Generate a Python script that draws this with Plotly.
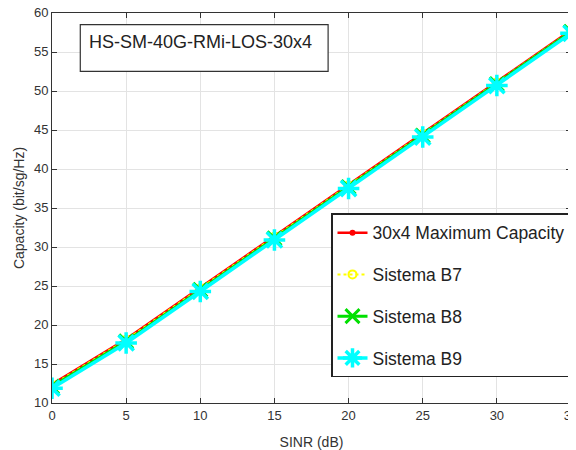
import plotly.graph_objects as go

sinr = [0, 5, 10, 15, 20, 25, 30, 35]
cap_max = [12.4, 18.2, 24.8, 31.4, 38.0, 44.6, 51.2, 57.8]
cap_b7 = [12.3, 18.1, 24.7, 31.3, 37.9, 44.5, 51.1, 57.7]
cap_b8 = [12.1, 17.9, 24.5, 31.1, 37.7, 44.3, 50.9, 57.6]
cap_b9 = [11.9, 17.7, 24.3, 30.9, 37.5, 44.1, 50.7, 57.4]
names = ["30x4 Maximum Capacity", "Sistema B7", "Sistema B8", "Sistema B9"]
x_ticks = [0, 5, 10, 15, 20, 25, 30, 35]
y_ticks = [10, 15, 20, 25, 30, 35, 40, 45, 50, 55, 60]
box_label = "HS-SM-40G-RMi-LOS-30x4"

FONT = "Liberation Sans, Arial, sans-serif"
AX = "#333333"

fig = go.Figure()
fig.add_trace(go.Scatter(
    x=sinr, y=cap_max, name=names[0], mode="lines+markers", legendgroup="a",
    line=dict(color="#ff0000", width=2.5),
    marker=dict(symbol="circle", size=6, color="#ff0000")))
fig.add_trace(go.Scatter(
    x=sinr, y=cap_b7, name=names[1], mode="lines+markers", legendgroup="b",
    line=dict(color="#ffff00", width=2, dash="dot"),
    marker=dict(symbol="circle-open", size=8, color="#ffff00", line=dict(width=2))))
fig.add_trace(go.Scatter(
    x=sinr, y=cap_b8, name=names[2], mode="lines+markers", legendgroup="c",
    line=dict(color="#00e000", width=3),
    marker=dict(symbol="x-thin-open", size=14, color="#00e000", line=dict(width=3))))
fig.add_trace(go.Scatter(
    x=sinr, y=cap_b9, name=names[3], mode="lines+markers", legendgroup="d",
    line=dict(color="#00ffff", width=3.5),
    marker=dict(symbol="asterisk-open", size=18, color="#00ffff", line=dict(width=3.5))))

axis_common = dict(
    showgrid=True, gridcolor="#e3e3e3", gridwidth=1,
    showline=True, linecolor=AX, linewidth=1, mirror="ticks",
    ticks="inside", ticklen=5, tickcolor=AX, tickwidth=1,
    tickfont=dict(family=FONT, size=13, color=AX),
    zeroline=False, automargin=False, ticklabeloverflow="allow",
)

# page body adds an 8px offset; figure sized so the plot lands where the reference has it
fig.update_layout(
    width=568, height=442,
    margin=dict(l=44, r=5, t=5, b=47, autoexpand=False),
    paper_bgcolor="white", plot_bgcolor="white",
    font=dict(family=FONT, color=AX),
    xaxis=dict(range=[0, 35], tickvals=x_ticks,
               title=dict(text="SINR (dB)", font=dict(family=FONT, size=14, color=AX), standoff=16),
               **axis_common),
    yaxis=dict(range=[10, 60], tickvals=y_ticks, ticklabelshift=-1,
               title=dict(text="Capacity (bit/sg/Hz)", font=dict(family=FONT, size=14, color=AX), standoff=6),
               **axis_common),
    legend=dict(
        x=1.0, y=0.066, xanchor="right", yanchor="bottom",
        bgcolor="white", bordercolor="#222222", borderwidth=1.5,
        font=dict(family=FONT, size=17.5, color="#222222"),
        tracegroupgap=16, itemwidth=30,
    ),
    showlegend=True,
)

fig.add_shape(type="rect", xref="paper", yref="paper",
              x0=0.0545, x1=0.532, y0=0.8505, y1=0.970,
              line=dict(color="#333333", width=1.2), fillcolor="white", layer="above")
fig.add_annotation(text=box_label, xref="paper", yref="paper",
                   x=0.068, y=0.925, xanchor="left", yanchor="middle",
                   showarrow=False, font=dict(family=FONT, size=18, color="#222222"))

fig.write_html("out.html")
